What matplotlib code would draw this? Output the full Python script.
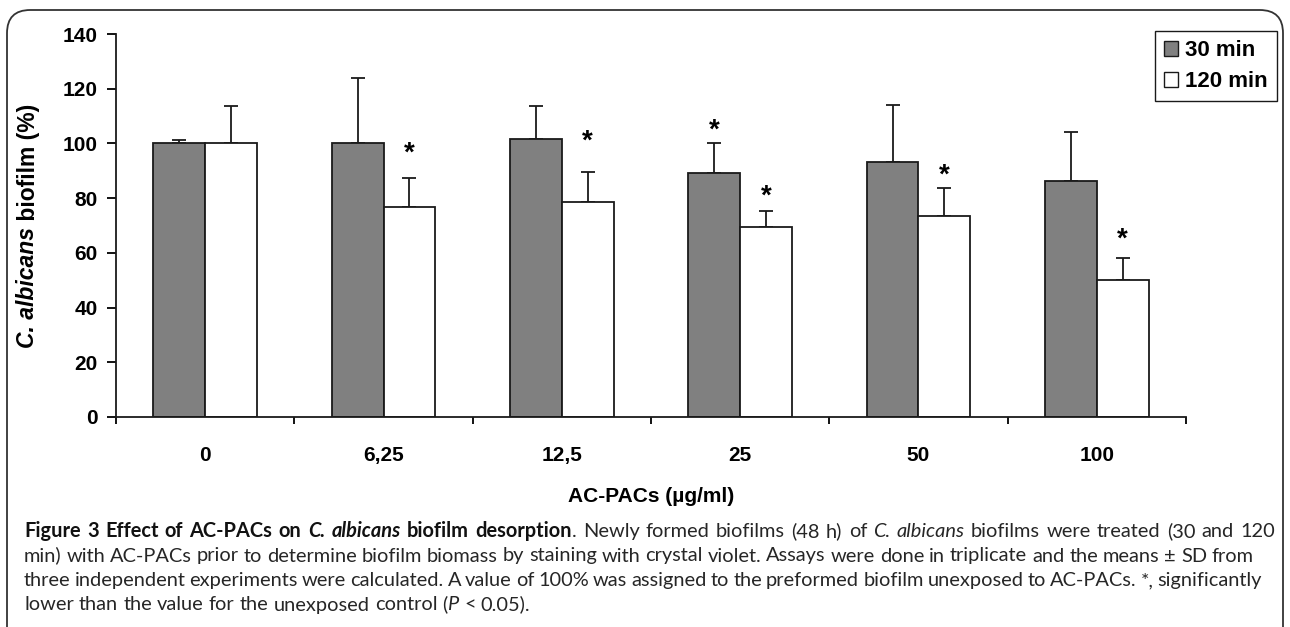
import matplotlib
matplotlib.use("Agg")
import matplotlib.pyplot as plt
from matplotlib.patches import FancyBboxPatch, Patch
import numpy as np

# ---------------- data ----------------
categories = ["0", "6,25", "12,5", "25", "50", "100"]
series_names = ["30 min", "120 min"]
mean_30 = [100.0, 100.0, 101.5, 89.2, 93.3, 86.4]
sd_30 = [1.4, 23.8, 12.3, 11.1, 20.7, 17.6]
mean_120 = [100.0, 76.9, 78.5, 69.4, 73.6, 50.2]
sd_120 = [13.7, 10.6, 11.2, 5.9, 10.1, 8.0]
# significance markers: (category index, series index, y value of marker)
sig_cat = [1, 2, 3, 3, 4, 5]
sig_series = [1, 1, 0, 1, 1, 1]
sig_y = [96.4, 100.6, 104.6, 80.5, 88.4, 64.7]
y_ticks = [0, 20, 40, 60, 80, 100, 120, 140]
y_label_parts = ["C. albicans", " biofilm (%)"]
x_label = "AC-PACs (\u00b5g/ml)"

caption_lines = [
    [("Figure 3 Effect of AC-PACs on ", "bold", "normal"),
     ("C. albicans", "bold", "italic"),
     (" biofilm desorption", "bold", "normal"),
     (". Newly formed biofilms (48 h) of ", "normal", "normal"),
     ("C. albicans", "normal", "italic"),
     (" biofilms were treated (30 and 120", "normal", "normal")],
    [("min) with AC-PACs prior to determine biofilm biomass by staining with crystal violet. "
      "Assays were done in triplicate and the means \u00b1 SD from", "normal", "normal")],
    [("three independent experiments were calculated. A value of 100% was assigned to the "
      "preformed biofilm unexposed to AC-PACs. *, significantly", "normal", "normal")],
    [("lower than the value for the unexposed control (", "normal", "normal"),
     ("P", "normal", "italic"),
     (" < 0.05).", "normal", "normal")],
]

# ---------------- layout ----------------
W, H = 1290, 627
fig = plt.figure(figsize=(W / 100, H / 100), dpi=100)
fig.patch.set_facecolor("white")
renderer = fig.canvas.get_renderer()

# rounded frame around the figure
frame = FancyBboxPatch((7 / W, -0.2), (1283 - 7) / W, 1.2 - 10 / H,
                       boxstyle="round,pad=0,rounding_size=0.018",
                       transform=fig.transFigure, fill=False,
                       edgecolor="#333333", linewidth=1.3, clip_on=False,
                       mutation_aspect=W / H)
fig.patches.append(frame)

ax_l, ax_r, ax_t, ax_b = 116, 1186, 34, 417
ax = fig.add_axes([ax_l / W, 1 - ax_b / H, (ax_r - ax_l) / W, (ax_b - ax_t) / H])

FONT = "Liberation Sans"
x = np.arange(len(categories))
bw = 0.29
edge = "#1a1a1a"
ax.bar(x - bw / 2, mean_30, bw, color="#808080", edgecolor=edge, linewidth=1.3, zorder=2)
ax.bar(x + bw / 2, mean_120, bw, color="white", edgecolor=edge, linewidth=1.3, zorder=2)
ax.errorbar(x - bw / 2, mean_30, yerr=[np.zeros(len(x)), sd_30], fmt="none",
            ecolor=edge, elinewidth=1.3, capsize=4.7, capthick=1.3, zorder=1)
ax.errorbar(x + bw / 2, mean_120, yerr=[np.zeros(len(x)), sd_120], fmt="none",
            ecolor=edge, elinewidth=1.3, capsize=4.7, capthick=1.3, zorder=1)

for c, s, yv in zip(sig_cat, sig_series, sig_y):
    xp = c + (-bw / 2 if s == 0 else bw / 2)
    ax.text(xp, yv, "*", ha="center", va="center", fontsize=20,
            fontweight="bold", family=FONT, color="black")

ax.set_xlim(-0.5, len(categories) - 0.5)
ax.set_ylim(0, 140)
ax.set_yticks(y_ticks)
ax.set_yticklabels([str(t) for t in y_ticks], fontsize=15, fontweight="bold", family=FONT)
ax.set_xticks(x)
ax.set_xticklabels(categories, fontsize=15, fontweight="bold", family=FONT)
ax.set_xticks(np.arange(len(categories) + 1) - 0.5, minor=True)
ax.tick_params(axis="x", which="major", length=0, pad=21)
ax.tick_params(axis="x", which="minor", length=5, width=1.3, direction="out")
ax.tick_params(axis="y", which="major", length=6.5, width=1.3, direction="out", pad=6.5)
for sp in ["top", "right"]:
    ax.spines[sp].set_visible(False)
for sp in ["left", "bottom"]:
    ax.spines[sp].set_linewidth(1.3)
    ax.spines[sp].set_color(edge)

# y label made of an italic and an upright piece
ylab_x = 28 / W
t1 = fig.text(0, 0, y_label_parts[0], rotation=90, fontsize=16.5, fontweight="bold",
              fontstyle="italic", family=FONT, ha="center", va="bottom")
t2 = fig.text(0, 0, y_label_parts[1], rotation=90, fontsize=16.5, fontweight="bold",
              family=FONT, ha="center", va="bottom")
h1 = t1.get_window_extent(renderer).height
h2 = t2.get_window_extent(renderer).height
yc = 226
start = H - yc - (h1 + h2) / 2
t1.set_position((ylab_x, start / H))
t2.set_position((ylab_x, (start + h1) / H))

ax.set_xlabel(x_label, fontsize=15, fontweight="bold", family=FONT, labelpad=16)

# legend
handles = [Patch(facecolor="#808080", edgecolor=edge, linewidth=1.0),
           Patch(facecolor="white", edgecolor=edge, linewidth=1.0)]
leg = fig.legend(handles, series_names, loc="upper left",
                 bbox_to_anchor=(1155 / W, 1 - 31 / H),
                 prop={"family": FONT, "weight": "bold", "size": 16},
                 frameon=True, fancybox=False, edgecolor="#1a1a1a", framealpha=1,
                 handlelength=0.65, handleheight=0.65, handletextpad=0.3,
                 borderpad=0.4, labelspacing=0.45, borderaxespad=0)
leg.get_frame().set_linewidth(1.0)

# caption, words spread to the observed line ends
cap_left = 24
cap_rights = [1275, 1254, 1262, None]
cap_baseline = [537, 561.5, 586, 610.5]
cap_family = "Lato"


def words_of(pieces):
    words = [[]]
    for txt, w, s in pieces:
        parts = txt.split(" ")
        for k, p in enumerate(parts):
            if k > 0:
                words.append([])
            if p:
                words[-1].append((p, w, s))
    return [wd for wd in words if wd]


def text_width(s, size, weight="normal", style="normal"):
    t = fig.text(0, 0, s, fontsize=size, family=cap_family, fontweight=weight, fontstyle=style)
    w = t.get_window_extent(renderer).width
    t.remove()
    return w


# size the caption font so the second line fits naturally
base = 12.0
nat = text_width(caption_lines[1][0][0], base)
cap_size = base * (cap_rights[1] - cap_left) / nat
space_w = text_width("a a", cap_size) - text_width("aa", cap_size)

for pieces, right, yy in zip(caption_lines, cap_rights, cap_baseline):
    words = words_of(pieces)
    objs = []
    widths = []
    for wd in words:
        row = []
        ww = 0
        for p, w, s in wd:
            t = fig.text(0, 1 - yy / H, p, fontsize=cap_size, family=cap_family,
                         fontweight=w, fontstyle=s, va="baseline", ha="left",
                         color="#111111" if w == "bold" else "#262626")
            pw = t.get_window_extent(renderer).width
            row.append((t, ww))
            ww += pw
        objs.append(row)
        widths.append(ww)
    total = sum(widths)
    if right is not None and len(words) > 1:
        gap = (right - cap_left - total) / (len(words) - 1)
    else:
        gap = space_w
    xcur = cap_left
    for row, ww in zip(objs, widths):
        for t, off in row:
            t.set_x((xcur + off) / W)
        xcur += ww + gap

fig.savefig("out.png", dpi=100, facecolor="white")
